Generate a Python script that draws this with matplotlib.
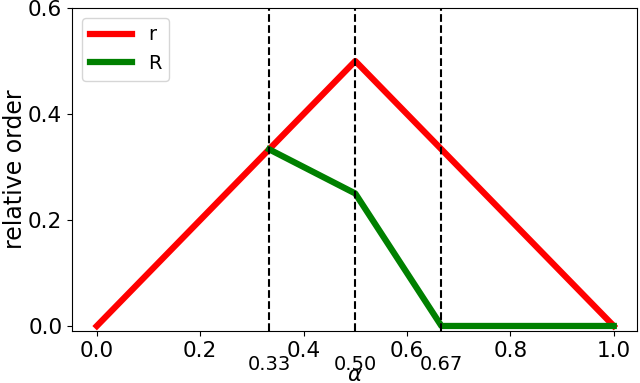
import matplotlib
matplotlib.use("Agg")
import matplotlib.pyplot as plt
import numpy as np

alpha_r = [0.0, 0.5, 1.0]
r_vals = [0.0, 0.5, 0.0]
alpha_R = [1/3, 0.5, 2/3, 1.0]
R_vals = [1/3, 0.25, 0.0, 0.0]
vlines = [1/3, 0.5, 2/3]
minor_labels = ["0.33", "0.50", "0.67"]
major_ticks = [0.0, 0.2, 0.4, 0.6, 0.8, 1.0]
y_ticks = [0.0, 0.2, 0.4, 0.6]

fig = plt.figure(figsize=(6.4, 3.83), dpi=100)
ax = fig.add_axes([72/640, 1 - 331/383, (637 - 72)/640, (331 - 8)/383])
ax.plot(alpha_r, r_vals, color="red", lw=4.5, label="r")
ax.plot(alpha_R, R_vals, color="green", lw=4.5, label="R")
for v in vlines:
    ax.axvline(v, color="black", ls="--", lw=1.5)
ax.set_xlim(-0.048, 1.045)
ax.set_ylim(-0.0095, 0.6)
ax.set_xticks(major_ticks)
ax.set_xticklabels([f"{t:.1f}" for t in major_ticks])
ax.set_yticks(y_ticks)
ax.set_yticklabels([f"{t:.1f}" for t in y_ticks])
ax.tick_params(axis="both", which="major", labelsize=15.5)
ax.set_xticks(vlines, minor=True)
ax.set_xticklabels(minor_labels, minor=True, fontsize=14)
ax.tick_params(axis="x", which="minor", pad=17, length=0)
ax.set_xlabel(r"$\alpha$", fontsize=15.5, labelpad=-6)
ax.set_ylabel("relative order", fontsize=17, labelpad=1)
ax.legend(loc="upper left", fontsize=14, handlelength=2.2)
fig.savefig("out.png", dpi=100)
